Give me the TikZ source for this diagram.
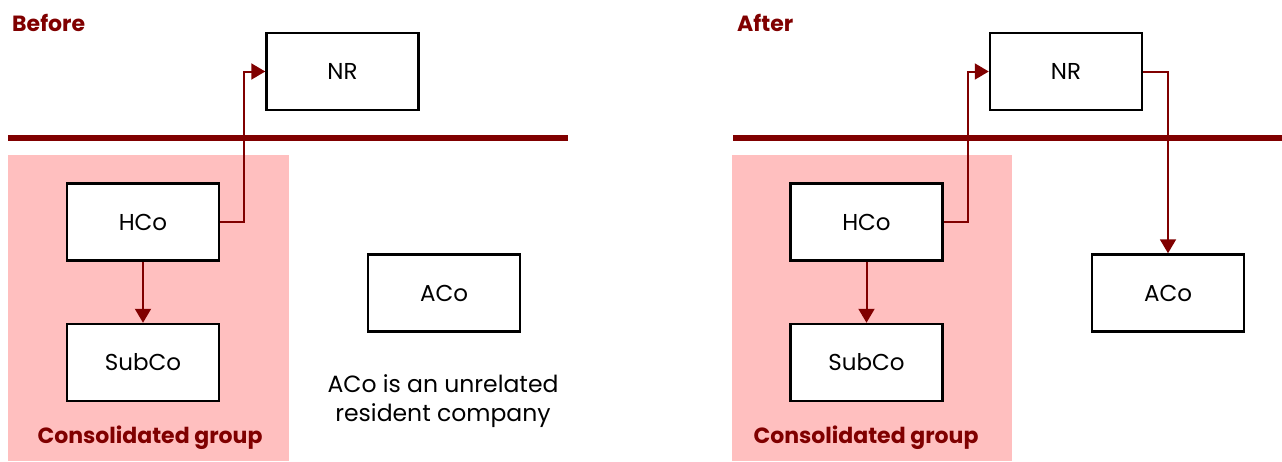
\documentclass[tikz,border=0pt]{standalone}
\usepackage{fontspec}
\setmainfont{Poppins}
\usetikzlibrary{arrows.meta}

\definecolor{darkred}{HTML}{800000}
\definecolor{grouppink}{HTML}{FFBFBF}

\tikzset{
	entity/.style={draw=black, line width=2.5pt, fill=white,
		minimum width=152pt, minimum height=77pt,
		font=\fontsize{23}{27}\selectfont},
	link/.style={draw=darkred, line width=2pt,
		-{Triangle[length=14pt,width=16pt]}},
	heading/.style={font=\fontsize{22}{26}\selectfont\bfseries,
		text=darkred, inner sep=0pt},
	border/.style={darkred, line width=6pt},
}

\begin{document}
\begin{tikzpicture}[x=1pt,y=-1pt]
	\useasboundingbox (0,0) rectangle (1282,461);
	
	% ---- (A) before ----
	\fill[grouppink] (8,155) rectangle (289,461);
	\draw[border] (8,138) -- (568,138);
	\node[heading, anchor=west] (before) at (12,23) {Before};
	\node[heading] (groupB) at (150,438) {Consolidated group};
	
	\node[entity] (nrB)  at (342.5,71.5) {NR};
	\node[entity] (hcoB) at (143,222)   {HCo};
	\node[entity] (subB) at (143,362.5) {SubCo};
	\node[entity] (acoB) at (444,293)   {ACo};
	\node[align=center, font=\fontsize{23.5}{29}\selectfont]
		(noteB) at (443,401) {ACo is an unrelated\\resident company};
	
	\draw[link] (hcoB.east) -- ++(24,0) |- (nrB.west);
	\draw[link] (hcoB.south) -- (subB.north);
	
	% ---- (B) after ----
	\fill[grouppink] (732,155) rectangle (1012,461);
	\draw[border] (733,138) -- (1282,138);
	\node[heading, anchor=west] (after) at (737,23) {After};
	\node[heading] (groupA) at (866,438) {Consolidated group};
	
	\node[entity] (nrA)  at (1066,71.5) {NR};
	\node[entity] (hcoA) at (866.5,222) {HCo};
	\node[entity] (subA) at (866.5,362.5) {SubCo};
	\node[entity] (acoA) at (1168,293)  {ACo};
	
	\draw[link] (hcoA.east) -- ++(24,0) |- (nrA.west);
	\draw[link] (hcoA.south) -- (subA.north);
	\draw[link] (nrA.east) -| (acoA.north);
\end{tikzpicture}
\end{document}
